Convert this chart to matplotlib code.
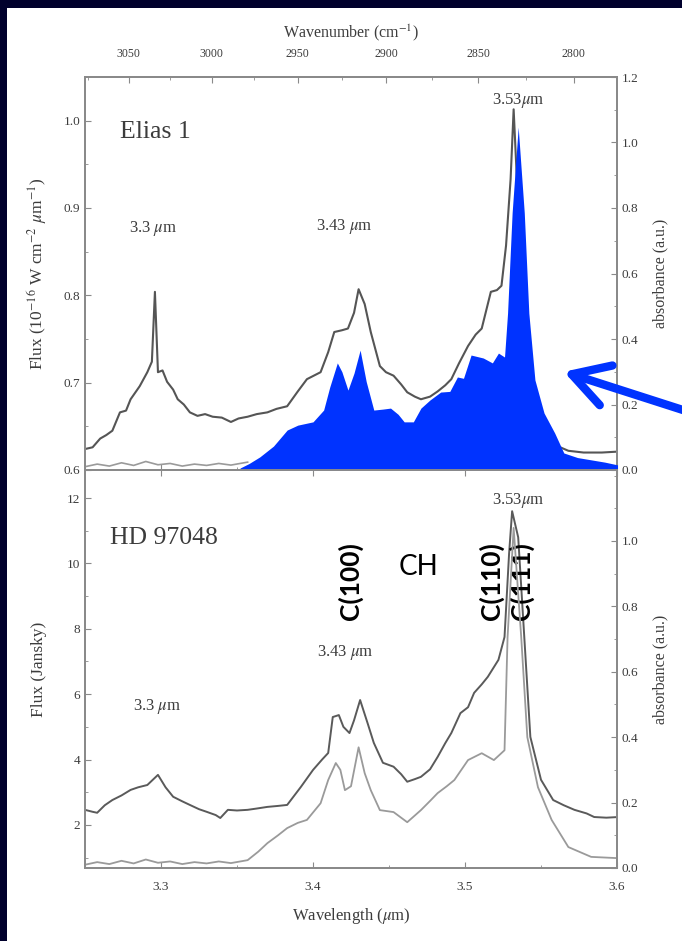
import matplotlib
matplotlib.use('Agg')
import matplotlib.pyplot as plt
from matplotlib.ticker import MultipleLocator, FixedLocator
from matplotlib.patches import Rectangle

plt.rcParams['font.family'] = ['Liberation Serif', 'DejaVu Serif']
plt.rcParams['mathtext.fontset'] = 'stix'

# ---------------- data ----------------
# Elias 1 flux (10^-16 W cm^-2 um^-1)
elias_wl = [3.250, 3.255, 3.260, 3.264, 3.268, 3.273, 3.277, 3.280, 3.286, 3.291,
            3.294, 3.296, 3.298, 3.301, 3.304, 3.308, 3.311, 3.315, 3.319, 3.324,
            3.329, 3.334, 3.340, 3.346, 3.351, 3.357, 3.363, 3.370, 3.376, 3.383,
            3.390, 3.396, 3.405, 3.410, 3.414, 3.419, 3.423, 3.427, 3.430, 3.434,
            3.438, 3.444, 3.448, 3.453, 3.458, 3.462, 3.467, 3.471, 3.477, 3.482,
            3.487, 3.491, 3.496, 3.502, 3.507, 3.511, 3.517, 3.521, 3.524, 3.527,
            3.530, 3.532, 3.535, 3.539, 3.543, 3.548, 3.553, 3.560, 3.568, 3.578,
            3.590, 3.600]
elias_flux = [0.624, 0.626, 0.636, 0.640, 0.645, 0.666, 0.668, 0.681, 0.696, 0.712,
              0.724, 0.804, 0.712, 0.714, 0.701, 0.692, 0.681, 0.675, 0.666, 0.662,
              0.664, 0.661, 0.660, 0.655, 0.659, 0.661, 0.664, 0.666, 0.670, 0.673,
              0.690, 0.704, 0.712, 0.735, 0.758, 0.760, 0.762, 0.780, 0.807, 0.790,
              0.758, 0.719, 0.712, 0.708, 0.698, 0.689, 0.684, 0.681, 0.684, 0.690,
              0.697, 0.704, 0.722, 0.742, 0.755, 0.762, 0.804, 0.806, 0.811, 0.857,
              0.933, 1.013, 0.900, 0.800, 0.700, 0.660, 0.640, 0.628, 0.622, 0.620,
              0.620, 0.621]

# Laboratory absorbance (a.u.) - blue filled spectrum in the top panel
blue_wl = [3.352, 3.358, 3.365, 3.374, 3.383, 3.390, 3.400, 3.407, 3.411, 3.416,
           3.419, 3.423, 3.427, 3.431, 3.435, 3.440, 3.446, 3.451, 3.456, 3.460,
           3.466, 3.471, 3.477, 3.484, 3.490, 3.495, 3.499, 3.504, 3.512, 3.518,
           3.522, 3.526, 3.528, 3.531, 3.535, 3.539, 3.542, 3.546, 3.552, 3.559,
           3.565, 3.574, 3.583, 3.592, 3.601]
blue_abs = [0.006, 0.020, 0.040, 0.073, 0.122, 0.137, 0.147, 0.183, 0.253, 0.327,
            0.300, 0.244, 0.296, 0.366, 0.270, 0.183, 0.186, 0.189, 0.170, 0.147,
            0.147, 0.189, 0.214, 0.238, 0.240, 0.284, 0.280, 0.351, 0.342, 0.327,
            0.357, 0.345, 0.479, 0.785, 1.047, 0.785, 0.479, 0.275, 0.174, 0.113,
            0.052, 0.038, 0.031, 0.024, 0.015]

# Absorbance curve (gray line, right axis)
abs_wl = [3.250, 3.258, 3.266, 3.274, 3.282, 3.290, 3.298, 3.306, 3.314, 3.322,
          3.330, 3.338, 3.346, 3.357, 3.364, 3.370, 3.377, 3.383, 3.390, 3.396,
          3.405, 3.410, 3.415, 3.418, 3.421, 3.425, 3.430, 3.434, 3.438, 3.444,
          3.453, 3.462, 3.471, 3.477, 3.482, 3.488, 3.493, 3.502, 3.511, 3.519,
          3.526, 3.528, 3.532, 3.537, 3.541, 3.548, 3.557, 3.568, 3.583, 3.601]
abs_vals = [0.010, 0.018, 0.012, 0.022, 0.014, 0.026, 0.016, 0.020, 0.012, 0.018,
            0.014, 0.020, 0.015, 0.024, 0.050, 0.076, 0.100, 0.122, 0.138, 0.147,
            0.198, 0.269, 0.321, 0.300, 0.238, 0.250, 0.369, 0.290, 0.238, 0.177,
            0.171, 0.140, 0.177, 0.205, 0.229, 0.250, 0.269, 0.330, 0.351, 0.330,
            0.360, 0.705, 1.040, 0.705, 0.400, 0.247, 0.147, 0.064, 0.034, 0.030]

# HD 97048 flux (Jansky)
hd_wl = [3.250, 3.255, 3.258, 3.263, 3.268, 3.274, 3.280, 3.285, 3.291, 3.298,
         3.303, 3.308, 3.314, 3.319, 3.325, 3.330, 3.336, 3.339, 3.344, 3.350,
         3.357, 3.363, 3.370, 3.377, 3.383, 3.392, 3.400, 3.406, 3.410, 3.413,
         3.417, 3.420, 3.424, 3.427, 3.431, 3.436, 3.440, 3.446, 3.453, 3.458,
         3.462, 3.467, 3.471, 3.477, 3.482, 3.487, 3.491, 3.497, 3.502, 3.506,
         3.511, 3.515, 3.522, 3.526, 3.529, 3.531, 3.535, 3.539, 3.543, 3.550,
         3.558, 3.565, 3.572, 3.580, 3.585, 3.593, 3.601]
hd_flux = [2.46, 2.40, 2.37, 2.60, 2.76, 2.90, 3.07, 3.15, 3.22, 3.53,
           3.15, 2.86, 2.72, 2.61, 2.48, 2.40, 2.30, 2.21, 2.46, 2.44,
           2.46, 2.50, 2.55, 2.58, 2.61, 3.16, 3.68, 4.00, 4.20, 5.30,
           5.36, 5.00, 4.81, 5.20, 5.82, 5.10, 4.51, 3.90, 3.78, 3.55,
           3.32, 3.40, 3.47, 3.70, 4.08, 4.50, 4.81, 5.42, 5.60, 6.04,
           6.30, 6.53, 7.05, 7.75, 10.3, 11.6, 10.8, 7.75, 4.69, 3.38,
           2.76, 2.60, 2.46, 2.35, 2.24, 2.22, 2.24]

x_ticks = [3.3, 3.4, 3.5, 3.6]
wavenumber_ticks = [3050, 3000, 2950, 2900, 2850, 2800]

# ---------------- styling ----------------
W, H = 682, 941
NAVY = '#00002c'
BLUE = '#0033ff'
TXT = '#3c3c3c'
SPINE = '#8a8a8a'

fig = plt.figure(figsize=(W / 100, H / 100), dpi=100, facecolor=NAVY)
fig.patches.append(Rectangle((7 / W, 0), 1, 1 - 8 / H, transform=fig.transFigure,
                             facecolor='white', edgecolor='none', zorder=-10))

ax1 = fig.add_axes([85 / W, 1 - 470 / H, 532 / W, 393 / H])
ax2 = fig.add_axes([85 / W, 1 - 868 / H, 532 / W, 398 / H])
ax1r = ax1.twinx()
ax2r = ax2.twinx()

for a in (ax1, ax2, ax1r, ax2r):
    a.patch.set_alpha(0)
    for s in a.spines.values():
        s.set_color(SPINE)
        s.set_linewidth(1.4)
    a.tick_params(which='both', direction='in', colors=SPINE, labelcolor=TXT,
                  labelsize=9.5)
    a.tick_params(which='major', length=4)
    a.tick_params(which='minor', length=2)
    a.set_xlim(3.25, 3.6)

# ---- top panel ----
ax1.set_ylim(0.6, 1.05)
ax1.yaxis.set_major_locator(FixedLocator([0.6, 0.7, 0.8, 0.9, 1.0]))
ax1.yaxis.set_minor_locator(MultipleLocator(0.05))
ax1.set_yticklabels(['0.6', '0.7', '0.8', '0.9', '1.0'])
ax1.xaxis.set_major_locator(FixedLocator(x_ticks))
ax1.xaxis.set_minor_locator(MultipleLocator(0.05))
ax1.tick_params(axis='x', labelbottom=False, top=False)
ax1.plot(elias_wl, elias_flux, color='#555555', lw=1.5, zorder=2)

ax1r.set_ylim(0, 1.2)
ax1r.yaxis.set_major_locator(MultipleLocator(0.2))
ax1r.yaxis.set_minor_locator(MultipleLocator(0.1))
ax1r.yaxis.set_major_formatter(plt.FuncFormatter(lambda v, p: f'{v:.1f}'))
n_free = sum(1 for w in abs_wl if w <= 3.357)
ax1r.plot(abs_wl[:n_free], abs_vals[:n_free], color='#9a9a9a', lw=1.2, zorder=1)
ax1r.fill_between(blue_wl, 0, blue_abs, color=BLUE, lw=0, zorder=3)
ax1r.set_ylabel('absorbance (a.u.)', color=TXT, fontsize=11.5, labelpad=10)

sec = ax1.secondary_xaxis('top', functions=(lambda x: 1e4 / x, lambda x: 1e4 / x))
sec.xaxis.set_major_locator(FixedLocator(wavenumber_ticks))
sec.xaxis.set_minor_locator(FixedLocator([3075, 3025, 2975, 2925, 2875, 2825]))
sec.tick_params(which='both', direction='in', colors=SPINE, labelcolor=TXT,
                labelsize=8.5, pad=12)
sec.tick_params(which='major', length=4)
sec.tick_params(which='minor', length=2)
sec.spines['top'].set_color(SPINE)
sec.spines['top'].set_linewidth(1.4)
sec.set_xlabel('Wavenumber (cm$^{-1}$)', color=TXT, fontsize=11.5, labelpad=8)

ax1.set_ylabel('Flux (10$^{-16}$ W cm$^{-2}$ $\\mu$m$^{-1}$)', color=TXT,
               fontsize=12.5, labelpad=10)

ax1.text(3.273, 0.987, 'Elias 1', fontsize=18.5, color=TXT, va='center', ha='left')
ax1.text(3.295, 0.877, '3.3 $\\mu$m', fontsize=12, color=TXT, ha='center', va='center')
ax1.text(3.4207, 0.879, '3.43 $\\mu$m', fontsize=12, color=TXT, ha='center', va='center')
ax1.text(3.5348, 1.0227, '3.53$\\mu$m', fontsize=12, color=TXT, ha='center', va='center')

# arrow pointing at the blue spectrum
ax1r.annotate('', xy=(3.5650, 0.30), xytext=(3.6435, 0.183),
              annotation_clip=False,
              arrowprops=dict(arrowstyle='->,head_length=2.6,head_width=1.5',
                              mutation_scale=10, lw=6, color=BLUE,
                              shrinkA=0, shrinkB=0, capstyle='round',
                              joinstyle='round'), zorder=5)

# ---- bottom panel ----
ax2.set_ylim(0.68, 12.86)
ax2.yaxis.set_major_locator(FixedLocator([2, 4, 6, 8, 10, 12]))
ax2.yaxis.set_minor_locator(MultipleLocator(1))
ax2.xaxis.set_major_locator(FixedLocator(x_ticks))
ax2.xaxis.set_minor_locator(MultipleLocator(0.05))
ax2.set_xticklabels(['3.3', '3.4', '3.5', '3.6'])
ax2.tick_params(axis='x', top=True, pad=9)
ax2.plot(hd_wl, hd_flux, color='#5a5a5a', lw=1.4, zorder=2)
ax2.set_ylabel('Flux (Jansky)', color=TXT, fontsize=12.5, labelpad=14)
ax2.set_xlabel('Wavelength ($\\mu$m)', color=TXT, fontsize=12, labelpad=10)

ax2r.set_ylim(0, 1.217)
ax2r.yaxis.set_major_locator(FixedLocator([0.0, 0.2, 0.4, 0.6, 0.8, 1.0]))
ax2r.yaxis.set_minor_locator(MultipleLocator(0.1))
ax2r.yaxis.set_major_formatter(plt.FuncFormatter(lambda v, p: f'{v:.1f}'))
ax2r.plot(abs_wl, abs_vals, color='#9a9a9a', lw=1.3, zorder=1)
ax2r.set_ylabel('absorbance (a.u.)', color=TXT, fontsize=11.5, labelpad=10)

ax2.text(3.2665, 10.78, 'HD 97048', fontsize=18.5, color=TXT, va='center', ha='left')
ax2.text(3.2975, 5.61, '3.3 $\\mu$m', fontsize=12, color=TXT, ha='center', va='center')
ax2.text(3.4214, 7.29, '3.43 $\\mu$m', fontsize=12, color=TXT, ha='center', va='center')
ax2.text(3.5348, 11.94, '3.53$\\mu$m', fontsize=12, color=TXT, ha='center', va='center')

# bold overlay labels
lab_font = ['Lato', 'DejaVu Sans']
ax2.text(3.4247, 9.46, 'C(100)', family=lab_font, fontweight='bold', fontsize=19,
         rotation=90, ha='center', va='center', color='black', zorder=6)
ax2.text(3.4695, 9.89, 'CH', family=lab_font, fontsize=20,
         ha='center', va='center', color='black', zorder=6)
ax2.text(3.517, 9.46, 'C(110)', family=lab_font, fontweight='bold', fontsize=19,
         rotation=90, ha='center', va='center', color='black', zorder=6)
ax2.text(3.5368, 9.46, 'C(111)', family=lab_font, fontweight='bold', fontsize=19,
         rotation=90, ha='center', va='center', color='black', zorder=6)

fig.savefig('out.png', dpi=100, facecolor=NAVY)
